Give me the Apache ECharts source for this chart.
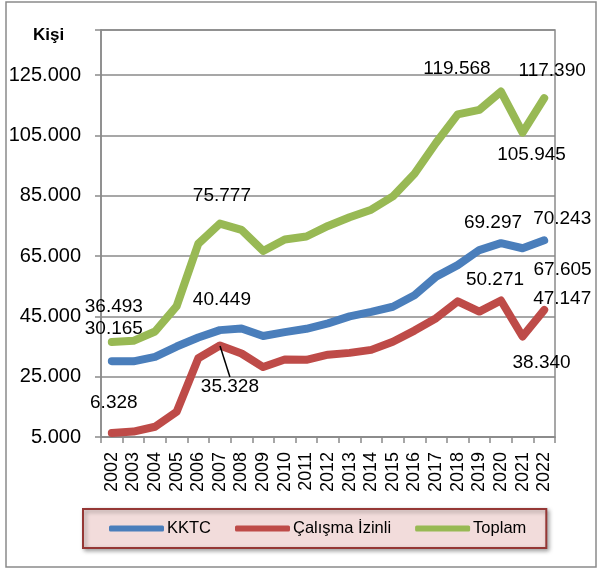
<!DOCTYPE html>
<html>
<head>
<meta charset="utf-8">
<script src="https://cdn.jsdelivr.net/npm/echarts@6/dist/echarts.min.js"></script>
<style>
  html, body { margin: 0; padding: 0; background: #fff; }
  #chart { width: 598px; height: 570px; }
</style>
</head>
<body>
<div id="chart"></div>
<script>
const years = ['2002', '2003', '2004', '2005', '2006', '2007', '2008', '2009', '2010', '2011', '2012',
  '2013', '2014', '2015', '2016', '2017', '2018', '2019', '2020', '2021', '2022']
const kktc = [30165, 30100, 31600, 35000, 38000, 40449, 41000, 38500, 39800, 40900, 42700,
  45000, 46500, 48200, 52000, 58200, 62000, 67000, 69297, 67605, 70243]
const calisma = [6328, 6800, 8400, 13400, 31100, 35328, 32700, 28200, 30700, 30600, 32300,
  32900, 33900, 36600, 40300, 44400, 50000, 46600, 50271, 38340, 47147]
const toplam = [36493, 36900, 40000, 48400, 69100, 75777, 73700, 66700, 70500, 71500, 75000,
  77900, 80400, 84800, 92300, 102600, 112000, 113500, 119568, 105945, 117390]
const yTicks = [5000, 25000, 45000, 65000, 85000, 105000, 125000]

// where the value labels sit, relative to their point (px)
const kktcLabels = { 0: [2, -32], 5: [2, -30], 18: [-8, -20], 19: [40, 22], 20: [18, -22] }
const calismaLabels = { 0: [2, -30], 5: [10, 41], 18: [-6, -21], 19: [19, 26], 20: [18, -11] }
const toplamLabels = { 0: [2, -35], 5: [2, -28], 18: [-44, -23], 19: [9, 22], 20: [8, -27] }

const fmt = (v) => String(v).replace(/\B(?=(\d{3})+(?!\d))/g, '.')
const font = 'Liberation Sans'

function buildData(values, offsets, leaderIdx) {
  return values.map((v, i) => {
    if (!offsets[i]) return v
    const item = { value: v, label: { show: true } }
    if (i === leaderIdx) item.labelLine = { show: true, lineStyle: { color: '#000', width: 1.5 } }
    return item
  })
}

function lineSeries(name, color, values, offsets, leaderIdx) {
  return {
    name,
    type: 'line',
    data: buildData(values, offsets, leaderIdx),
    symbol: 'circle',
    symbolSize: 1,
    showAllSymbol: true,
    itemStyle: { color },
    lineStyle: { color, width: 8, cap: 'round', join: 'round' },
    label: {
      show: false,
      position: 'inside',
      color: '#000',
      fontFamily: font,
      fontSize: 19,
      formatter: (p) => fmt(p.value),
    },
    labelLayout: (p) => {
      const o = offsets[p.dataIndex]
      return o ? { dx: o[0], dy: o[1] } : {}
    },
    emphasis: { disabled: true },
  }
}

const chart = echarts.init(document.getElementById('chart'))
chart.setOption({
  animation: false,
  backgroundColor: '#fff',
  title: {
    text: 'Kişi',
    left: 28,
    top: 22,
    textStyle: { fontFamily: font, fontSize: 17, fontWeight: 'bold', color: '#000' },
  },
  graphic: [{
    type: 'rect',
    shape: { x: 6, y: 2, width: 590, height: 565 },
    style: { fill: null, stroke: '#8a8a8a', lineWidth: 1.5 },
    silent: true,
  }],
  legend: {
    left: 83,
    top: 509,
    padding: [11, 20, 11, 26],
    backgroundColor: '#f2dcdb',
    borderColor: '#953735',
    borderWidth: 2,
    shadowColor: 'rgba(0,0,0,0.35)',
    shadowBlur: 4,
    shadowOffsetX: 2,
    shadowOffsetY: 2,
    itemWidth: 55,
    itemHeight: 6,
    itemGap: 24,
    icon: 'roundRect',
    textStyle: { fontFamily: font, fontSize: 16.5, color: '#000', padding: [0, 0, 0, -2] },
    data: ['KKTC', 'Çalışma İzinli', 'Toplam'],
  },
  grid: {
    left: 101, right: 43, top: 30, bottom: 133,
    show: true, borderColor: '#8a8a8a', borderWidth: 1.5,
  },
  xAxis: {
    type: 'category',
    data: years,
    boundaryGap: true,
    axisLine: { lineStyle: { color: '#8a8a8a', width: 1.5 } },
    axisTick: { show: true, length: 6, lineStyle: { color: '#8a8a8a', width: 1.5 } },
    axisLabel: {
      rotate: 90,
      interval: 0,
      margin: 15,
      color: '#000',
      fontFamily: font,
      fontSize: 18,
    },
  },
  yAxis: {
    type: 'value',
    min: yTicks[0],
    max: 140000,
    interval: yTicks[1] - yTicks[0],
    axisLine: { show: true, lineStyle: { color: '#8a8a8a', width: 1.5 } },
    axisTick: { show: true, length: 6, lineStyle: { color: '#8a8a8a', width: 1.5 } },
    splitLine: { lineStyle: { color: '#8a8a8a', width: 1.5 } },
    axisLabel: {
      color: '#000',
      fontFamily: font,
      fontSize: 20,
      margin: 20,
      formatter: (v) => (yTicks.includes(v) ? fmt(v) : ''),
    },
  },
  series: [
    lineSeries('KKTC', '#4a7ebb', kktc, kktcLabels),
    lineSeries('Çalışma İzinli', '#be4b48', calisma, calismaLabels, 5),
    lineSeries('Toplam', '#98b954', toplam, toplamLabels),
  ],
})
</script>
</body>
</html>
